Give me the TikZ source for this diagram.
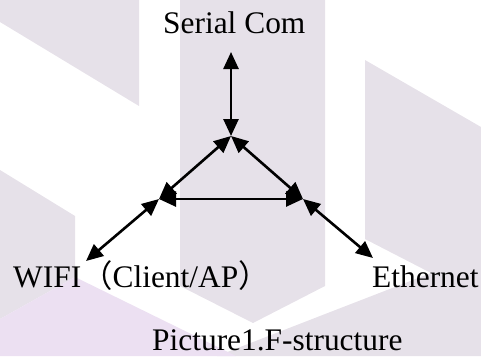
\documentclass[tikz,border=0pt]{standalone}
\usepackage{fontspec}
\setmainfont{Liberation Serif}
\newfontfamily\cjkfont{Noto Sans CJK SC}
\usetikzlibrary{arrows.meta}
\definecolor{wmgrey}{RGB}{230,225,233}
\definecolor{wmpink}{RGB}{236,224,242}
\tikzset{
  lbl/.style={inner sep=0pt, anchor=base west, font=\fontsize{31.4}{36}\selectfont},
  biarrow/.style={line width=2.6pt, {Triangle[length=17pt,width=15pt]}-{Triangle[length=17pt,width=15pt]}},
  wm/.style={fill=wmgrey, draw=none},
  wmp/.style={fill=wmpink, draw=none}
}
\begin{document}
\begin{tikzpicture}[x=1pt,y=-1pt]
\useasboundingbox (0,0) rectangle (481,356);
% watermark background
\fill[wm] (0,0) -- (139,0) -- (139,106) -- (0,22) -- cycle;
\fill[wm] (0,170) -- (75,216) -- (75,277) -- (0,319) -- cycle;
\fill[wm] (180,0) -- (325,0) -- (325,286) -- (253,323) -- (180,286) -- cycle;
\fill[wm] (365,60) -- (481,127) -- (481,356) -- (217,356) -- (320,316) -- (431,273) -- (365,239) -- cycle;
\fill[wmp] (0,319) -- (75,277) -- (236,356) -- (0,356) -- cycle;
% labels
\node[lbl] (serial) at (163,33) {Serial Com};
\node[lbl] (wifi) at (13,287) {WIFI{\cjkfont （}Client/AP{\cjkfont ）}};
\node[lbl] (eth) at (372,287) {Ethernet};
\node[lbl] (cap) at (152,350) {Picture1.F-structure};
% connection points
\coordinate (S) at (231,52);
\coordinate (T) at (231,136);
\coordinate (L) at (159,199);
\coordinate (R) at (303,199);
\coordinate (W) at (86,261);
\coordinate (E) at (373,258);
% arrows
\draw[biarrow] (S) -- (T);
\draw[biarrow] (T) -- (L);
\draw[biarrow] (T) -- (R);
\draw[biarrow] (L) -- (R);
\draw[biarrow] (W) -- (L);
\draw[biarrow] (E) -- (R);
\end{tikzpicture}
\end{document}
